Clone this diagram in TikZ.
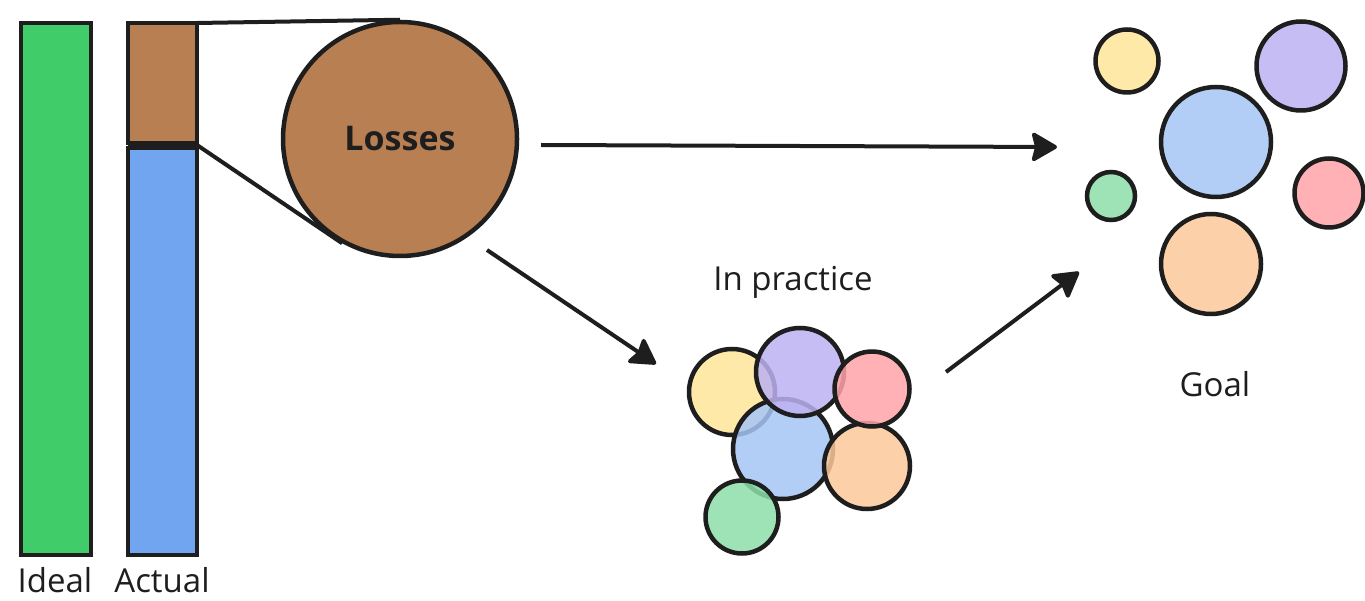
\documentclass[tikz,border=0pt]{standalone}
\usepackage{fontspec}
\setmainfont{Open Sans}
\usetikzlibrary{arrows.meta}
\definecolor{ink}{HTML}{1E1E1E}
\definecolor{cgreen}{HTML}{40CC69}
\definecolor{cbrown}{HTML}{B87F53}
\definecolor{cblue}{HTML}{72A5F0}
\definecolor{pyellow}{HTML}{FFE599}
\definecolor{ppurple}{HTML}{BCB2F2}
\definecolor{ppink}{HTML}{FFA3A8}
\definecolor{pblue}{HTML}{A6C6F5}
\definecolor{porange}{HTML}{FBC899}
\definecolor{pgreen}{HTML}{8CDEA8}
\begin{document}
\begin{tikzpicture}[x=1pt,y=-1pt,
  bar/.style={draw=ink,line width=4.5pt},
  ball/.style={circle,draw=ink,line width=4.5pt,inner sep=0pt,fill opacity=0.85,draw opacity=1},
  lbl/.style={text=ink,font=\fontsize{33}{38}\selectfont,inner sep=0pt},
  arr/.style={draw=ink,line width=4pt,-{Stealth[inset=4pt,length=28pt,width=32pt,round]}},
  zoomline/.style={draw=ink,line width=4pt}]
\useasboundingbox (0,0) rectangle (1365,601);
% bars
\draw[bar,fill=cgreen] (21,23) rectangle (91,555);
\draw[bar,fill=cbrown] (128,23) rectangle (197,143);
\draw[bar,fill=cblue] (128,148) rectangle (197,555);
\fill[ink] (128,143) rectangle (197,148);
\coordinate (brTop) at (197,23);
\coordinate (brBot) at (197,145);
\node[lbl,anchor=base] (lIdeal) at (55,592) {Ideal};
\node[lbl,anchor=base] (lActual) at (162,592) {Actual};
% losses circle
\node[circle,draw=ink,line width=4.5pt,fill=cbrown,minimum size=234pt,inner sep=0pt] (L) at (400,139) {};
\node[text=ink,font=\fontsize{34}{40}\selectfont\bfseries] at (L.center) {Losses};
\draw[zoomline] (brTop) -- (L.north);
\draw[zoomline] (brBot) -- (L.241);
% in practice cluster
\node[ball,fill=pyellow,minimum size=86pt] (y1) at (732,392) {};
\node[ball,fill=pblue,minimum size=100pt] (b1) at (783,449) {};
\node[ball,fill=ppurple,minimum size=88pt] (p1) at (800,372) {};
\node[ball,fill=porange,minimum size=86pt] (o1) at (867,466) {};
\node[ball,fill=ppink,minimum size=75pt] (r1) at (872,389) {};
\node[ball,fill=pgreen,minimum size=73pt] (g1) at (742,517) {};
\node[lbl] (lPractice) at (793,282) {In practice};
% goal cluster
\node[ball,fill=pyellow,minimum size=63pt] (y2) at (1127,61) {};
\node[ball,fill=ppurple,minimum size=89pt] (p2) at (1301,66) {};
\node[ball,fill=pblue,minimum size=110pt] (b2) at (1216,142) {};
\node[ball,fill=pgreen,minimum size=48pt] (g2) at (1111,196) {};
\node[ball,fill=ppink,minimum size=69pt] (r2) at (1329,193) {};
\node[ball,fill=porange,minimum size=100pt] (o2) at (1211,264) {};
\node[lbl] (lGoal) at (1215,384) {Goal};
% arrows
\coordinate (a1s) at (541,145);
\coordinate (a1e) at (1057,147);
\coordinate (a2s) at (487,250);
\coordinate (a2e) at (656,364);
\coordinate (a3s) at (946,372);
\coordinate (a3e) at (1079,272);
\draw[arr] (a1s) -- (a1e);
\draw[arr] (a2s) -- (a2e);
\draw[arr] (a3s) -- (a3e);
\end{tikzpicture}
\end{document}
